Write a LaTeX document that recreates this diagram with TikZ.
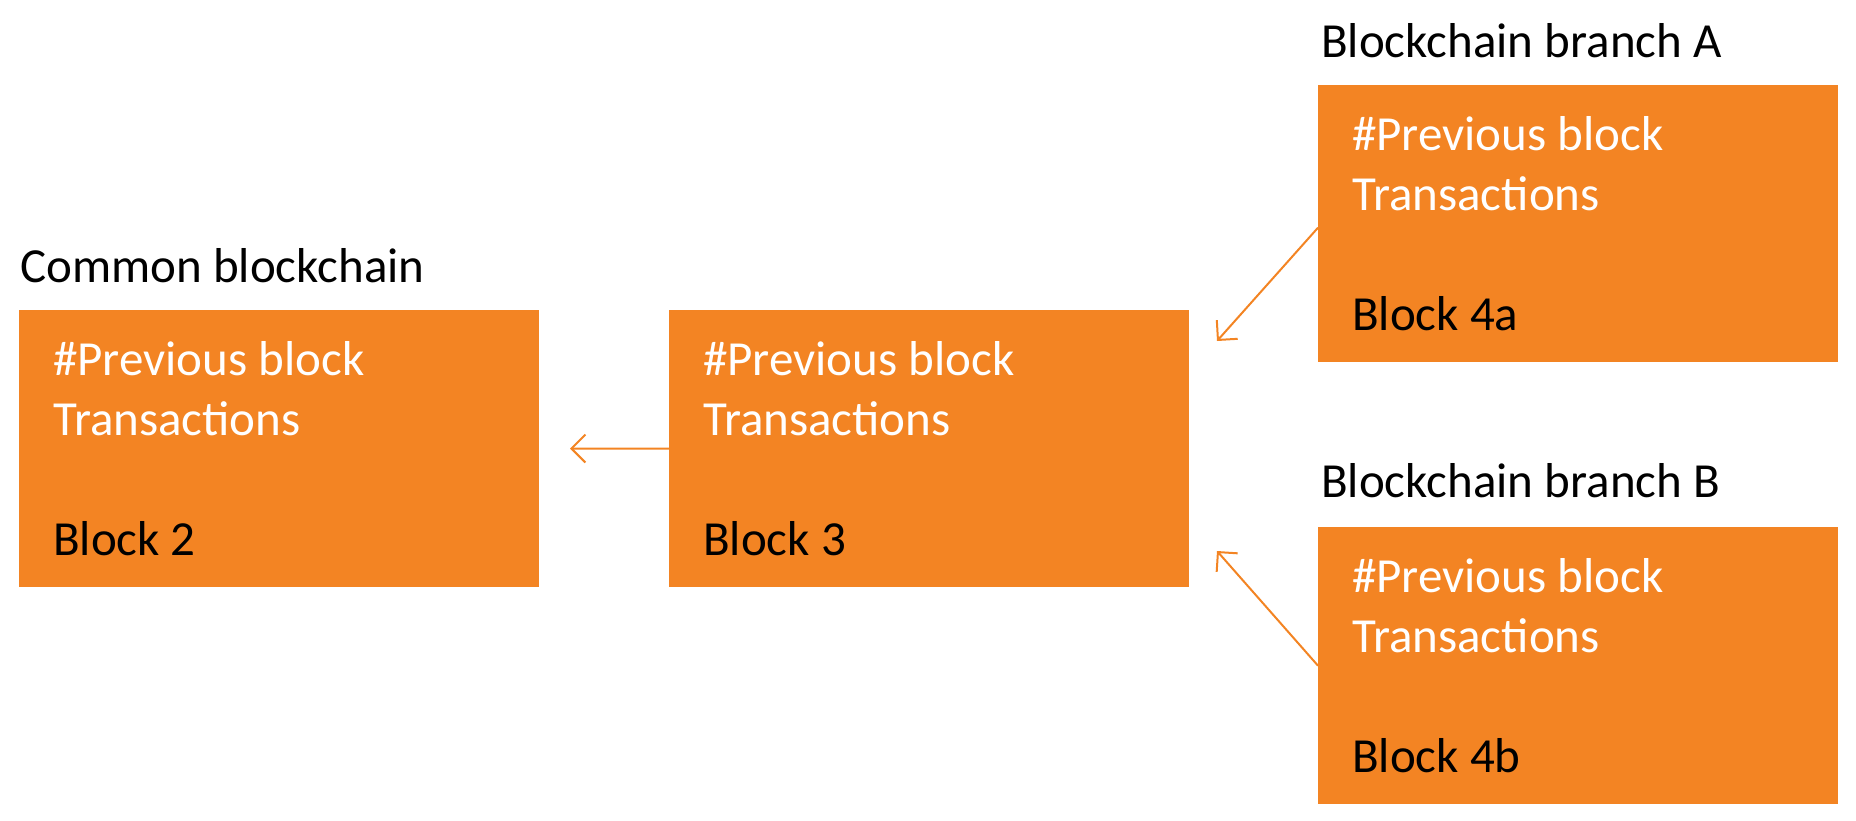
\documentclass[tikz,border=0pt]{standalone}
\usepackage{fontspec}
\setmainfont{Carlito}
\usetikzlibrary{arrows.meta,calc}
\definecolor{blockorange}{RGB}{243,132,35}
\tikzset{
  blk/.style={fill=blockorange, draw=none, inner sep=0pt, minimum width=520pt, minimum height=277pt, anchor=north west},
  wtxt/.style={text=white, inner sep=0pt, anchor=base west, font=\fontsize{49}{60}\selectfont},
  ktxt/.style={text=black, inner sep=0pt, anchor=base west, font=\fontsize{49}{60}\selectfont},
  conn/.style={draw=blockorange, line width=2pt, -{Straight Barb[length=14pt,width=28pt]}}
}
\begin{document}
\begin{tikzpicture}[x=1pt,y=-1pt]
\useasboundingbox (0,0) rectangle (1856,820);
% blocks
\node[blk] (b2) at (19,310) {};
\node[blk] (b3) at (669,310) {};
\node[blk] (b4a) at (1318,85) {};
\node[blk] (b4b) at (1318,527) {};
% group labels
\node[ktxt] (lc) at (20,282) {Common blockchain};
\node[ktxt] (la) at (1321,57) {Blockchain branch A};
\node[ktxt] (lb) at (1321,497) {Blockchain branch B};
% block texts
\node[wtxt] (b2p) at ($(b2.north west)+(34,65)$) {\#Previous block};
\node[wtxt] (b2t) at ($(b2.north west)+(34,125)$) {Transactions};
\node[ktxt] (b2n) at ($(b2.north west)+(34,245)$) {Block 2};
\node[wtxt] (b3p) at ($(b3.north west)+(34,65)$) {\#Previous block};
\node[wtxt] (b3t) at ($(b3.north west)+(34,125)$) {Transactions};
\node[ktxt] (b3n) at ($(b3.north west)+(34,245)$) {Block 3};
\node[wtxt] (b4ap) at ($(b4a.north west)+(34,65)$) {\#Previous block};
\node[wtxt] (b4at) at ($(b4a.north west)+(34,125)$) {Transactions};
\node[ktxt] (b4an) at ($(b4a.north west)+(34,245)$) {Block 4a};
\node[wtxt] (b4bp) at ($(b4b.north west)+(34,65)$) {\#Previous block};
\node[wtxt] (b4bt) at ($(b4b.north west)+(34,125)$) {Transactions};
\node[ktxt] (b4bn) at ($(b4b.north west)+(34,245)$) {Block 4b};
% connectors
\coordinate (t2) at (570,448.5);
\coordinate (t3a) at (1217,341);
\coordinate (t3b) at (1217,551);
\draw[conn] (b3.west) -- (t2);
\draw[conn] ($(b4a.west)+(0,4)$) -- (t3a);
\draw[conn] (b4b.west) -- (t3b);
\end{tikzpicture}
\end{document}
